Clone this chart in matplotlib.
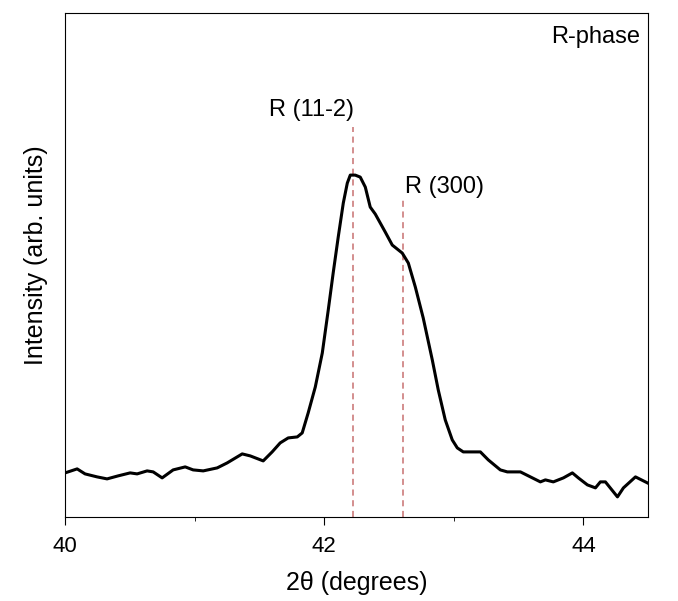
import matplotlib
matplotlib.use("Agg")
import matplotlib.pyplot as plt
from matplotlib.ticker import MultipleLocator

plt.rcParams['font.family'] = ['Liberation Sans', 'DejaVu Sans']

# 2theta (degrees) and intensity (arb. units)
two_theta = [40.000, 40.093, 40.154, 40.247, 40.324, 40.409, 40.502, 40.556, 40.633, 40.680,
             40.749, 40.834, 40.927, 40.988, 41.066, 41.174, 41.251, 41.367, 41.429, 41.529,
             41.598, 41.660, 41.722, 41.792, 41.830, 41.876, 41.931, 41.985, 42.031, 42.069,
             42.108, 42.147, 42.178, 42.201, 42.239, 42.278, 42.317, 42.355, 42.394, 42.471,
             42.525, 42.602, 42.649, 42.703, 42.764, 42.834, 42.880, 42.934, 42.988, 43.027,
             43.073, 43.205, 43.266, 43.359, 43.413, 43.514, 43.591, 43.668, 43.707, 43.768,
             43.846, 43.915, 43.961, 44.031, 44.093, 44.131, 44.170, 44.232, 44.263, 44.309,
             44.402, 44.494]
intensity = [44, 48, 43, 40, 38, 41, 44, 43, 46, 45,
             39, 47, 50, 47, 46, 49, 54, 63, 61, 56,
             65, 74, 79, 80, 84, 104, 130, 164, 207, 244,
             280, 314, 334, 342, 342, 340, 330, 310, 303, 285,
             272, 264, 254, 230, 199, 157, 127, 97, 77, 69,
             65, 65, 57, 47, 45, 45, 40, 35, 37, 35,
             39, 44, 39, 32, 29, 35, 35, 25, 20, 29,
             40, 34]

peak_pos = [42.22, 42.61]
peak_top = [390, 319]
peak_labels = ["R (11-2)", "R (300)"]

fig = plt.figure(figsize=(6.78, 6.01), dpi=100)
ax = fig.add_axes([0.096, 0.140, 0.860, 0.838])

for x, top in zip(peak_pos, peak_top):
    ax.plot([x, x], [0, top], color='#c87070', lw=1.1, dashes=(4, 3))

ax.plot(two_theta, intensity, color='black', lw=2.2)

ax.text(42.228, 407, peak_labels[0], ha='right', va='center', fontsize=17)
ax.text(42.625, 330, peak_labels[1], ha='left', va='center', fontsize=17)
ax.text(0.986, 0.952, "R-phase", transform=ax.transAxes, ha='right', va='center', fontsize=17)

ax.set_xlim(40, 44.5)
ax.set_ylim(0, 504)
ax.xaxis.set_major_locator(MultipleLocator(2))
ax.xaxis.set_minor_locator(MultipleLocator(1))
ax.tick_params(axis='x', which='major', direction='out', length=6, labelsize=16, pad=8)
ax.tick_params(axis='x', which='minor', direction='out', length=3)
ax.set_yticks([])
ax.set_xlabel("2θ (degrees)", fontsize=18, labelpad=10)
ax.set_ylabel("Intensity (arb. units)", fontsize=18)
ax.yaxis.set_label_coords(-0.03, 0.52)

fig.savefig("out.png", dpi=100)
